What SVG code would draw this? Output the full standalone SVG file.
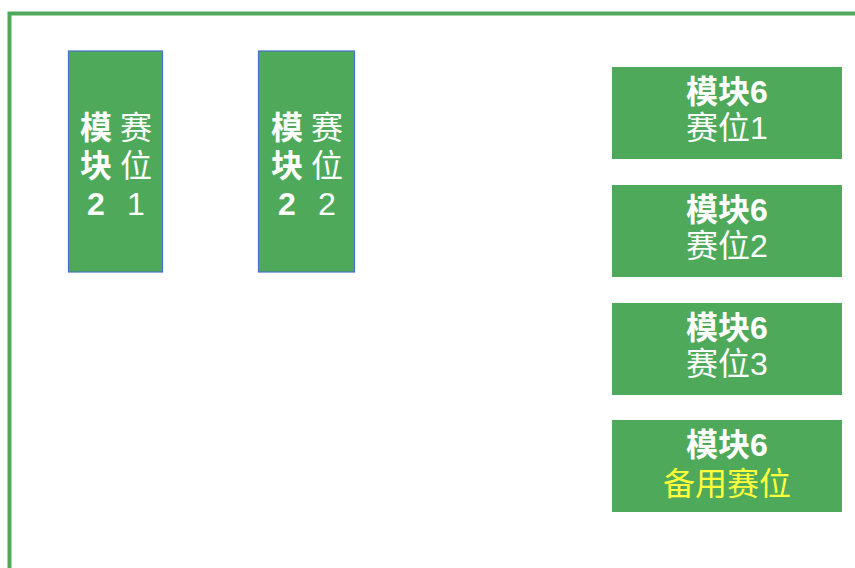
<svg xmlns="http://www.w3.org/2000/svg" width="855" height="568" viewBox="0 0 855 568">
<style>
.frame{fill:none;stroke:#4EAA5A;stroke-width:4}
.vbox{fill:#4EAA5A;stroke:#4472C4;stroke-width:1.2}
.hbox{fill:#4EAA5A}
text{font-family:"Liberation Sans","Noto Sans CJK SC",sans-serif;font-size:32px;fill:#FFFFFF;text-anchor:middle}
.b{font-weight:bold}
.y{fill:#FFFF3C}
</style>
<rect width="855" height="568" fill="#FFFFFF"/>
<rect class="frame" x="9.5" y="13.5" width="860" height="580"/>
<g id="connectors"/>
<g id="m2s1">
<rect class="vbox" x="68.5" y="51" width="94" height="221"/>
<text class="b" x="96" y="139">模</text>
<text class="b" x="96" y="177">块</text>
<text class="b" x="96" y="215">2</text>
<text x="136" y="139">赛</text>
<text x="136" y="177">位</text>
<text x="136" y="215">1</text>
</g>
<g id="m2s2">
<rect class="vbox" x="258.5" y="51" width="96" height="221"/>
<text class="b" x="287" y="139">模</text>
<text class="b" x="287" y="177">块</text>
<text class="b" x="287" y="215">2</text>
<text x="327" y="139">赛</text>
<text x="327" y="177">位</text>
<text x="327" y="215">2</text>
</g>
<g id="m6s1">
<rect class="hbox" x="612" y="67" width="230" height="92"/>
<text class="b" x="727" y="103">模块6</text>
<text x="727" y="139">赛位1</text>
</g>
<g id="m6s2">
<rect class="hbox" x="612" y="185" width="230" height="92"/>
<text class="b" x="727" y="221">模块6</text>
<text x="727" y="257">赛位2</text>
</g>
<g id="m6s3">
<rect class="hbox" x="612" y="303" width="230" height="92"/>
<text class="b" x="727" y="339">模块6</text>
<text x="727" y="375">赛位3</text>
</g>
<g id="m6spare">
<rect class="hbox" x="612" y="420" width="230" height="92"/>
<text class="b" x="727" y="456">模块6</text>
<text class="y" x="727" y="495">备用赛位</text>
</g>
</svg>
